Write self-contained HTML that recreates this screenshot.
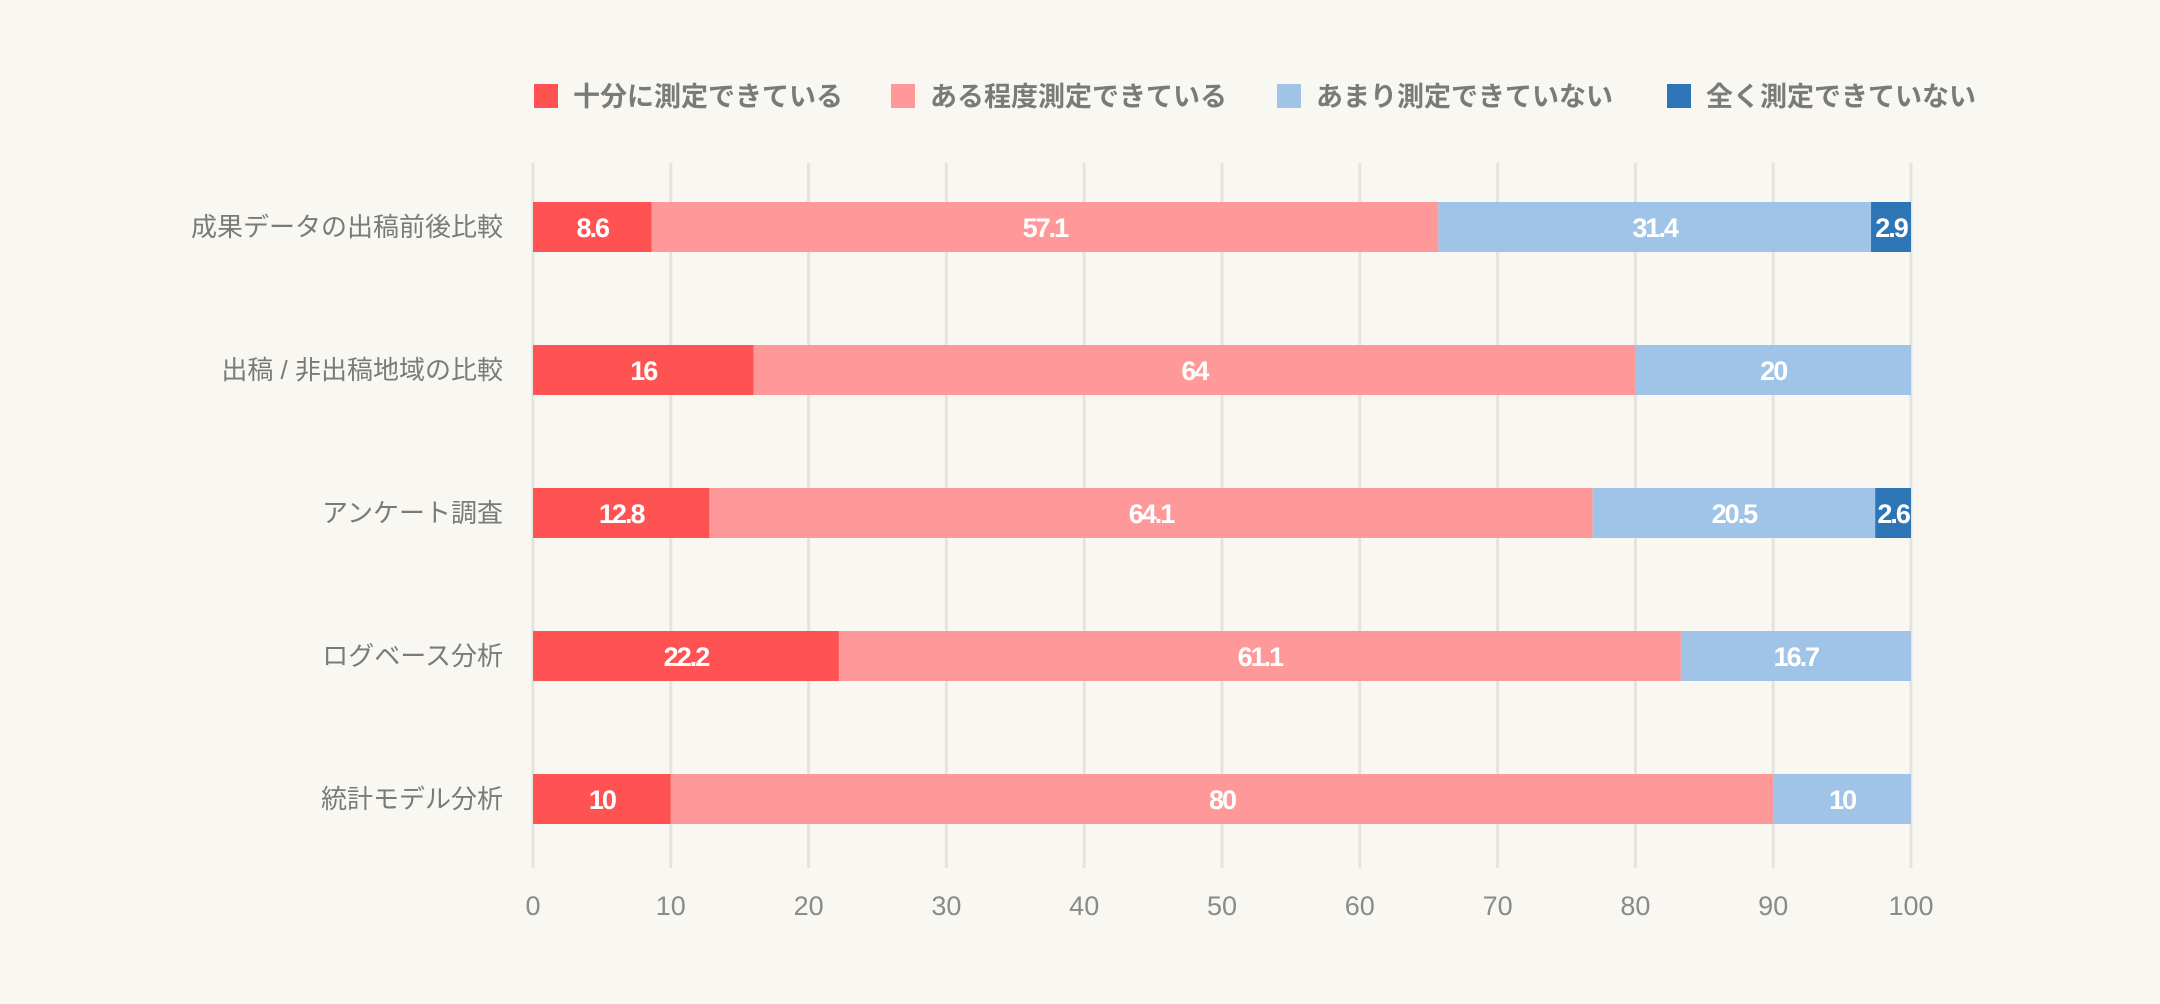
<!DOCTYPE html>
<html><head><meta charset="utf-8">
<style>
html,body{margin:0;padding:0;background:#f8f7f1;}
svg{display:block;font-family:"Liberation Sans","Noto Sans CJK JP",sans-serif;}
</style></head>
<body>
<svg id="chart" width="2160" height="1004" viewBox="0 0 2160 1004" xmlns="http://www.w3.org/2000/svg">
<rect width="2160" height="1004" fill="#f8f7f1"/>
<g id="grid"></g>
<g id="bars"></g>
<g id="cats"></g>
<g id="ticks"></g>
<g id="legend"></g>
</svg>
<script>
const categories = ["成果データの出稿前後比較","出稿 / 非出稿地域の比較","アンケート調査","ログベース分析","統計モデル分析"];
const seriesNames = ["十分に測定できている","ある程度測定できている","あまり測定できていない","全く測定できていない"];
const s1 = [8.6,16,12.8,22.2,10];
const s2 = [57.1,64,64.1,61.1,80];
const s3 = [31.4,20,20.5,16.7,10];
const s4 = [2.9,0,2.6,0,0];
const tickValues = [0,10,20,30,40,50,60,70,80,90,100];
const colors = ["#ff5252","#ff9999","#a0c4e8","#2e75b6"];
const series=[s1,s2,s3,s4];
const NS="http://www.w3.org/2000/svg";
const x0=533,x1=1911,yTop=163,yBot=868,rowTop=227,rowStep=143,barH=50;
const xs=v=>x0+(x1-x0)*v/100;
const yc=i=>rowTop+rowStep*i;
function mk(tag,attrs,parent){const e=document.createElementNS(NS,tag);for(const k in attrs)e.setAttribute(k,attrs[k]);parent.appendChild(e);return e;}
const G=id=>document.getElementById(id);
tickValues.forEach(t=>{
  const l=mk('line',{x1:xs(t),x2:xs(t),y1:yTop,y2:yBot,stroke:'#e4e3de','stroke-width':3},G('grid'));
  
  
  const tx=mk('text',{x:xs(t),y:915,'text-anchor':'middle','font-size':27,fill:'#8a8a8a'},G('ticks'));
  tx.textContent=t;
  
  
});
categories.forEach((c,i)=>{
  const t=mk('text',{x:503,y:yc(i)+9,'text-anchor':'end','font-size':26,fill:'#7a7a7a'},G('cats'));
  t.textContent=c;
  
  
  let acc=0;
  series.forEach((s,j)=>{
    const v=s[i]; if(!v){return;}
    const r=mk('rect',{x:xs(acc),y:yc(i)-barH/2,width:xs(acc+v)-xs(acc),height:barH,fill:colors[j]},G('bars'));
    
    
    const lb=mk('text',{x:(xs(acc)+xs(acc+v))/2,y:yc(i)+10,'text-anchor':'middle','font-size':27,'font-weight':'bold',fill:'#fff','letter-spacing':'-2'},G('bars'));
    lb.textContent=v;
    
    
    acc+=v;
  });
});
const legX=[534,891,1277,1667];
seriesNames.forEach((n,j)=>{
  const r=mk('rect',{x:legX[j],y:84,width:24,height:24,fill:colors[j]},G('legend'));
  
  
  const t=mk('text',{x:legX[j]+39,y:106,'font-size':27,'font-weight':'bold',fill:'#7a7a7a'},G('legend'));
  t.textContent=n;
  
  
});
</script>
</body></html>
